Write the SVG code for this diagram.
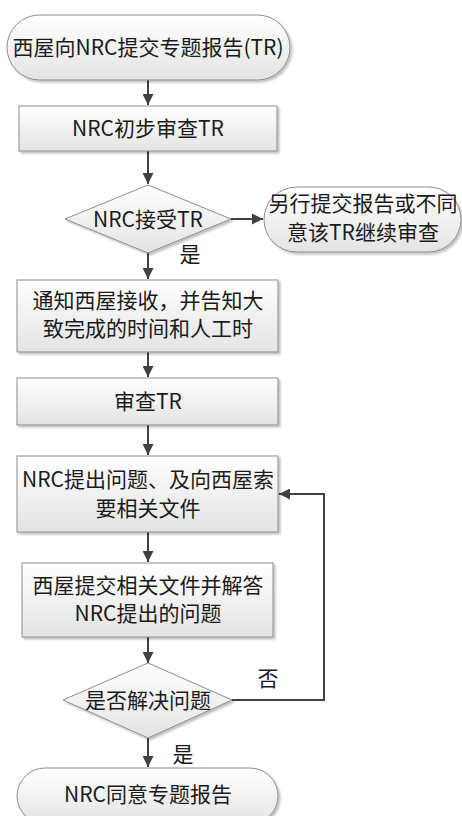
<svg xmlns="http://www.w3.org/2000/svg" width="462" height="816" viewBox="0 0 462 816">
<style>
.n{fill:url(#g);stroke:#8c8c8c;stroke-width:1;filter:url(#sh)}
.t{font-family:"Noto Sans CJK SC","Liberation Sans",sans-serif;font-size:21px;fill:#1a1a1a;text-anchor:middle}
.c{stroke:#404040;stroke-width:2;fill:none}
</style>
<defs>
<linearGradient id="g" x1="0" y1="0" x2="0" y2="1">
<stop offset="0" stop-color="#ffffff"/>
<stop offset="1" stop-color="#e4e4e4"/>
</linearGradient>
<filter id="sh" x="-10%" y="-10%" width="125%" height="130%">
<feOffset in="SourceAlpha" dx="2" dy="2" result="o"/>
<feGaussianBlur in="o" stdDeviation="1.2" result="b"/>
<feColorMatrix in="b" type="matrix" values="0 0 0 0 0  0 0 0 0 0  0 0 0 0 0  0 0 0 0.25 0" result="s"/>
<feMerge><feMergeNode in="s"/><feMergeNode in="SourceGraphic"/></feMerge>
</filter>
<marker id="a" viewBox="0 0 10 10" refX="10" refY="5" markerWidth="5.5" markerHeight="5.5" orient="auto">
<path d="M0,0 L10,5 L0,10 z" fill="#404040"/>
</marker>
</defs>
<g id="connectors">
<line class="c" x1="148" y1="80" x2="148" y2="105" marker-end="url(#a)"/>
<line class="c" x1="148" y1="151" x2="148" y2="184" marker-end="url(#a)"/>
<line class="c" x1="231" y1="219" x2="263" y2="219" marker-end="url(#a)"/>
<line class="c" x1="148" y1="253" x2="148" y2="279" marker-end="url(#a)"/>
<line class="c" x1="148" y1="352" x2="148" y2="377" marker-end="url(#a)"/>
<line class="c" x1="148" y1="425" x2="148" y2="455" marker-end="url(#a)"/>
<line class="c" x1="148" y1="532" x2="148" y2="562" marker-end="url(#a)"/>
<line class="c" x1="148" y1="637" x2="148" y2="663" marker-end="url(#a)"/>
<polyline class="c" points="232,700 324,700 324,494 279,494" marker-end="url(#a)"/>
<line class="c" x1="148" y1="738" x2="148" y2="767" marker-end="url(#a)"/>
<text class="t" x="190" y="262">是</text>
<text class="t" x="268" y="686">否</text>
<text class="t" x="183" y="762">是</text>
</g>
<g id="n1"><rect class="n" x="7" y="15" width="283" height="65" rx="32.5"/><text class="t" x="148" y="55">西屋向NRC提交专题报告(TR)</text></g>
<g id="n2"><rect class="n" x="19" y="106" width="258" height="45"/><text class="t" x="148" y="136">NRC初步审查TR</text></g>
<g id="n3"><polygon class="n" points="148,185 231,219 148,253 65,219"/><text class="t" x="148" y="227">NRC接受TR</text></g>
<g id="n4"><rect class="n" x="264" y="187" width="197" height="65" rx="32.5"/><text class="t" x="363" y="211">另行提交报告或不同</text><text class="t" x="363" y="240">意该TR继续审查</text></g>
<g id="n5"><rect class="n" x="17" y="280" width="261" height="72"/><text class="t" x="148" y="308">通知西屋接收，并告知大</text><text class="t" x="148" y="336">致完成的时间和人工时</text></g>
<g id="n6"><rect class="n" x="17" y="378" width="261" height="47"/><text class="t" x="148" y="409">审查TR</text></g>
<g id="n7"><rect class="n" x="17" y="456" width="261" height="76"/><text class="t" x="148" y="487">NRC提出问题、及向西屋索</text><text class="t" x="148" y="516">要相关文件</text></g>
<g id="n8"><rect class="n" x="22" y="563" width="251" height="74"/><text class="t" x="148" y="593">西屋提交相关文件并解答</text><text class="t" x="148" y="621">NRC提出的问题</text></g>
<g id="n9"><polygon class="n" points="148,663 232,700 148,738 63,700"/><text class="t" x="148" y="708">是否解决问题</text></g>
<g id="n10"><rect class="n" x="17" y="768" width="261" height="56" rx="28"/><text class="t" x="148" y="802">NRC同意专题报告</text></g>
</svg>
